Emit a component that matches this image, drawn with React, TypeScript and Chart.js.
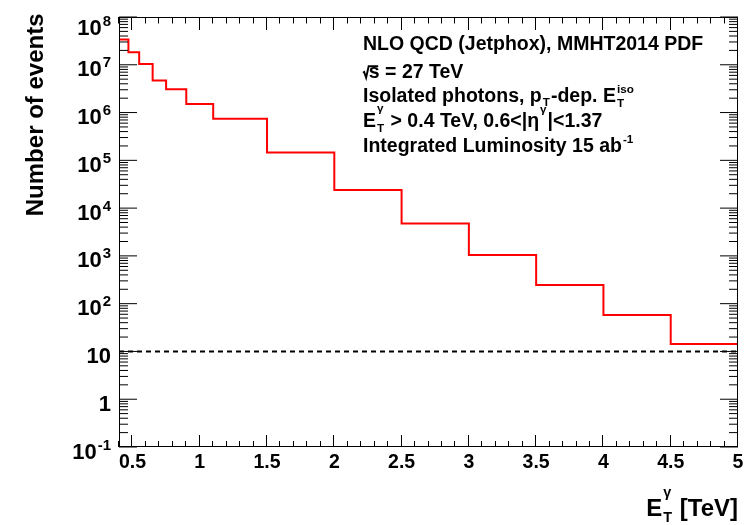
import React, { useEffect, useRef } from "react";
import { Chart, registerables } from "chart.js";

Chart.register(...registerables);

// ---- data ----
const binEdges = [0.4, 0.47, 0.55, 0.65, 0.75, 0.9, 1.1, 1.5, 2.0, 2.5, 3.0, 3.5, 4.0, 4.5, 5.0];
const binCounts = [3.4e7, 1.82e7, 1.04e7, 4.7e6, 3.07e6, 1.51e6, 7.46e5, 1.45e5, 2.4e4, 4.74e3, 1.05e3, 247, 58, 14.4];
const referenceLevel = 10;
const xRange = [0.4, 5];
const yRange = [0.1, 1e8];
const xTickValues = [0.5, 1, 1.5, 2, 2.5, 3, 3.5, 4, 4.5, 5];
const xTickLabels = ["0.5", "1", "1.5", "2", "2.5", "3", "3.5", "4", "4.5", "5"];
const yTickValues = [0.1, 1, 10, 1e2, 1e3, 1e4, 1e5, 1e6, 1e7, 1e8];
const yTickBases = ["10", "1", "10", "10", "10", "10", "10", "10", "10", "10"];
const yTickExponents = ["-1", "", "", "2", "3", "4", "5", "6", "7", "8"];
const yTitle = "Number of events";

type Seg = { t?: string; sup?: string; sub?: string; supDy?: number; subDy?: number; surd?: boolean };

const legendLines: Seg[][] = [
  [{ t: "NLO QCD (Jetphox), MMHT2014 PDF" }],
  [{ surd: true, t: "s" }, { t: " = 27 TeV" }],
  [{ t: "Isolated photons, p" }, { sub: "T", subDy: 0.22 }, { t: "-dep. E" }, { sup: "iso", sub: "T" }],
  [{ t: "E" }, { sup: "γ", sub: "T", supDy: -0.72 }, { t: " > 0.4 TeV, 0.6<|η" }, { sup: "γ", supDy: -0.7 }, { t: "|<1.37" }],
  [{ t: "Integrated Luminosity 15 ab" }, { sup: "-1" }],
];
const legendBaselines = [49.5, 78, 101.5, 126.5, 152];
const xTitle: Seg[] = [{ t: "E" }, { sup: "γ", sub: "T", supDy: -0.78 }, { t: " [TeV]" }];

const FAMILY = '"Liberation Sans", Arial, Helvetica, sans-serif';
const font = (size: number) => `bold ${size}px ${FAMILY}`;

function drawRich(ctx: CanvasRenderingContext2D, segs: Seg[], x: number, y: number, size: number, draw = true): number {
  let cx = x;
  ctx.textAlign = "left";
  ctx.textBaseline = "alphabetic";
  for (const s of segs) {
    if (s.surd) {
      const r0 = cx;
      const rw = 0.3 * size;
      ctx.font = font(size);
      const tw = ctx.measureText(s.t || "").width;
      if (draw) {
        ctx.save();
        ctx.lineWidth = 1.9;
        ctx.lineJoin = "miter";
        ctx.lineCap = "butt";
        ctx.beginPath();
        ctx.moveTo(r0 + 0.0 * size, y - 0.27 * size);
        ctx.lineTo(r0 + 0.06 * size, y - 0.31 * size);
        ctx.lineTo(r0 + 0.16 * size, y - 0.01 * size);
        ctx.lineTo(r0 + 0.29 * size, y - 0.6 * size);
        ctx.lineTo(r0 + rw + tw - 1.5, y - 0.6 * size);
        ctx.stroke();
        ctx.restore();
        ctx.fillText(s.t || "", r0 + rw, y);
      }
      cx = r0 + rw + tw;
      continue;
    }
    if (s.t) {
      ctx.font = font(size);
      if (draw) ctx.fillText(s.t, cx, y);
      cx += ctx.measureText(s.t).width;
    }
    if (s.sup || s.sub) {
      const ss = size * 0.6;
      ctx.font = font(ss);
      let w = 0;
      if (s.sup) {
        if (draw) ctx.fillText(s.sup, cx + 1, y + (s.supDy ?? -0.45) * size);
        w = Math.max(w, ctx.measureText(s.sup).width);
      }
      if (s.sub) {
        if (draw) ctx.fillText(s.sub, cx + 1, y + (s.subDy ?? 0.28) * size);
        w = Math.max(w, ctx.measureText(s.sub).width);
      }
      cx += w + 2;
    }
  }
  return cx - x;
}

const rootFramePlugin = {
  id: "rootFrame",
  afterDraw(chart: any) {
    const ctx: CanvasRenderingContext2D = chart.ctx;
    const { left, right, top, bottom } = chart.chartArea;
    const xs = chart.scales.x;
    const ys = chart.scales.y;
    ctx.save();
    ctx.strokeStyle = "#000";
    ctx.fillStyle = "#000";
    ctx.lineWidth = 1;

    // frame
    ctx.strokeRect(left + 0.5, top + 0.5, right - left - 1, bottom - top - 1);

    // x ticks (bottom and top, inward)
    ctx.beginPath();
    for (let i = Math.round(xRange[0] * 10); i <= Math.round(xRange[1] * 10); i++) {
      const v = i / 10;
      const px = Math.round(xs.getPixelForValue(v)) - 0.5;
      const major = i % 5 === 0;
      const lb = major ? 12 : 6;
      const lt = major ? 13 : 6.5;
      ctx.moveTo(px, bottom);
      ctx.lineTo(px, bottom - lb);
      ctx.moveTo(px, top);
      ctx.lineTo(px, top + lt);
    }
    // y ticks (log)
    for (let d = -1; d <= 8; d++) {
      for (let k = 1; k <= 9; k++) {
        const v = k * Math.pow(10, d);
        if (v < yRange[0] * 0.999 || v > yRange[1] * 1.001) continue;
        const py = ys.getPixelForValue(v);
        const len = k === 1 ? 18 : 9;
        ctx.moveTo(left, py);
        ctx.lineTo(left + len, py);
        ctx.moveTo(right, py);
        ctx.lineTo(right - len, py);
      }
    }
    ctx.stroke();

    // x tick labels
    ctx.font = font(19.5);
    ctx.textAlign = "center";
    ctx.textBaseline = "alphabetic";
    xTickValues.forEach((v, i) => {
      ctx.fillText(xTickLabels[i], xs.getPixelForValue(v), bottom + 20.5);
    });

    // y tick labels
    yTickValues.forEach((v, i) => {
      const py = ys.getPixelForValue(v);
      const base = yTickBases[i];
      const exp = yTickExponents[i];
      ctx.font = font(22);
      const bw = ctx.measureText(base).width;
      ctx.font = font(15);
      const ew = exp ? ctx.measureText(exp).width + 1 : 0;
      const rightEdge = left - 8;
      const baseline = Math.max(py + 11.5, top + 18);
      ctx.textAlign = "left";
      ctx.font = font(22);
      ctx.fillText(base, rightEdge - ew - bw, baseline);
      if (exp) {
        ctx.font = font(15);
        ctx.fillText(exp, rightEdge - ew + 1, baseline - 9);
      }
    });

    // y title
    ctx.save();
    ctx.translate(left - 76.5, top - 3.5);
    ctx.rotate(-Math.PI / 2);
    ctx.textAlign = "right";
    ctx.font = font(24);
    ctx.fillText(yTitle, 0, 0);
    ctx.restore();

    // x title (right aligned)
    const w = drawRich(ctx, xTitle, 0, 0, 24, false);
    drawRich(ctx, xTitle, right - w, bottom + 68.5, 24, true);

    // legend text
    legendLines.forEach((segs, i) => {
      drawRich(ctx, segs, left + 244, legendBaselines[i], 19.5, true);
    });

    ctx.restore();
  },
};

export default function App() {
  const ref = useRef<HTMLCanvasElement>(null);
  useEffect(() => {
    const canvas = ref.current;
    if (!canvas) return;
    const histPoints = binEdges.map((e, i) => ({ x: e, y: binCounts[Math.min(i, binCounts.length - 1)] }));
    const refPoints = [
      { x: xRange[0], y: referenceLevel },
      { x: xRange[1], y: referenceLevel },
    ];
    const chart = new Chart(canvas, {
      type: "line",
      data: {
        datasets: [
          {
            data: histPoints,
            borderColor: "#ff0000",
            borderWidth: 2,
            pointRadius: 0,
            stepped: true,
            fill: false,
          },
          {
            data: refPoints,
            borderColor: "#000000",
            borderWidth: 2,
            borderDash: [5, 4],
            pointRadius: 0,
            fill: false,
          },
        ],
      },
      options: {
        animation: false,
        responsive: false,
        events: [],
        layout: { padding: { left: 119, right: 11, top: 17, bottom: 78 } },
        plugins: { legend: { display: false }, tooltip: { enabled: false }, title: { display: false } },
        scales: {
          x: { type: "linear", min: xRange[0], max: xRange[1], display: false, bounds: "data" },
          y: { type: "logarithmic", min: yRange[0], max: yRange[1], display: false, bounds: "data" },
        },
      },
      plugins: [rootFramePlugin],
    } as any);
    return () => chart.destroy();
  }, []);
  return (
    <div style={{ position: "fixed", left: 0, top: 0, width: 749, height: 525, background: "#fff" }}>
      <canvas ref={ref} width={749} height={525} style={{ display: "block", width: 749, height: 525 }} />
    </div>
  );
}
